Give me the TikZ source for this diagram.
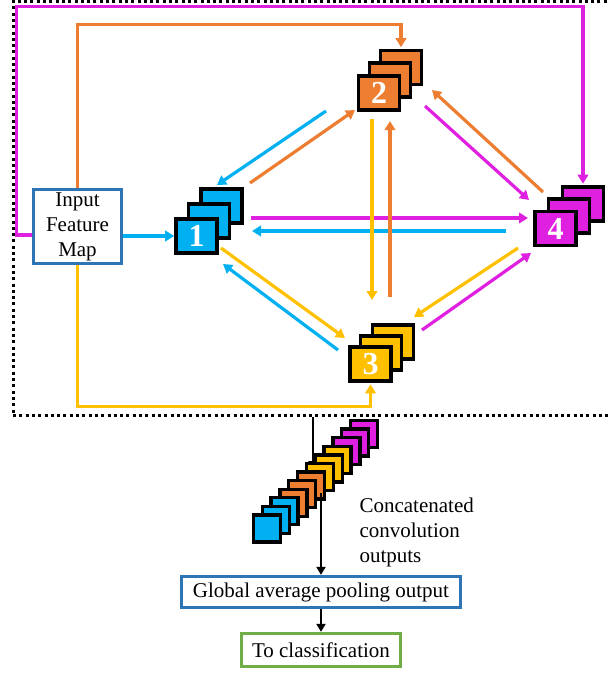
\documentclass[tikz,border=0pt]{standalone}
\usepackage{fontspec}
\setmainfont{Liberation Serif}
\usetikzlibrary{arrows.meta,calc,backgrounds}
\definecolor{cblue}{RGB}{0,176,240}
\definecolor{corange}{RGB}{237,125,49}
\definecolor{cyellow}{RGB}{255,192,0}
\definecolor{cmag}{RGB}{224,32,224}
\definecolor{boxblue}{RGB}{46,117,182}
\definecolor{boxgreen}{RGB}{112,173,71}
\begin{document}
\begin{tikzpicture}[x=1pt,y=-1pt,
  fm/.style={draw=black,line width=3.6pt,minimum width=41pt,minimum height=34pt,inner sep=0pt},
  num/.style={text=white,font=\bfseries\fontsize{32}{32}\selectfont},
  sq/.style={draw=black,line width=3.3pt,minimum size=27pt,inner sep=0pt},
  arr/.style={line width=3.2pt,-{Triangle[length=9pt,width=10.5pt]}},
  barr/.style={line width=2.6pt,-{Triangle[length=8pt,width=9pt]}},
  txt/.style={font=\fontsize{21}{25}\selectfont},
  outbox/.style={txt,line width=3.3pt,inner sep=0pt}
]
\useasboundingbox (0,0) rectangle (608,673);

% dotted frame around the convolution block (its right side lies on the page edge)
\node[draw=black,line width=3pt,dash pattern=on 3pt off 3.3pt,minimum width=597pt,minimum height=414pt,inner sep=0pt] (fr) at (311.5,208.5) {};

% input
\node[outbox,draw=boxblue,minimum width=88pt,minimum height=74pt,align=center] (ib) at (77.5,226.5) {Input\\Feature\\Map};

% feature-map stacks (back, middle, front)
\node[fm,fill=cblue] (s1c) at (221.5,206) {};
\node[fm,fill=cblue] (s1b) at (209,221) {};
\node[fm,fill=cblue,num] (s1a) at (196.5,236) {1};

\node[fm,fill=corange] (s2c) at (401,67.5) {};
\node[fm,fill=corange] (s2b) at (390,80) {};
\node[fm,fill=corange,num] (s2a) at (379,93) {2};

\node[fm,fill=cyellow] (s3c) at (393,342) {};
\node[fm,fill=cyellow] (s3b) at (381,353) {};
\node[fm,fill=cyellow,num] (s3a) at (370.5,364) {3};

\node[fm,fill=cmag] (s4c) at (583,204) {};
\node[fm,fill=cmag] (s4b) at (569,216) {};
\node[fm,fill=cmag,num] (s4a) at (555.5,228.5) {4};

% connections
\begin{pgfonlayer}{background}
\draw[arr,cblue] (ib.east |- s1a.west) -- (s1a.west);
\draw[arr,corange] (ib.north) -- ++(0,-163) -| ([yshift=1.5pt]s2c.north);
\draw[arr,cmag] ([yshift=-8.5pt]ib.west) -- ++(-15.5,0) -- ++(0,-228.5) -| ([yshift=1.5pt]s4c.north);
\draw[arr,cyellow] (ib.south) -- ++(0,141.5) -| ([yshift=-1.5pt]s3a.south);

\draw[arr,cblue]   ($(s2a)+(-53,18)$) -- ($(s1c)+(-4.5,-21)$);
\draw[arr,corange] ($(s1c)+(28.5,-23)$) -- ($(s2a)+(-24,17)$);
\draw[arr,cmag]    ($(s1c)+(29.5,12)$) -- ($(s4a)+(-27.5,-10.5)$);
\draw[arr,cblue]   ($(s4a)+(-49.5,2.5)$) -- ($(s1c)+(30.5,25)$);
\draw[arr,cyellow] ($(s2a)+(-7,26)$) -- ($(s3c)+(-21,-42)$);
\draw[arr,corange] ($(s3c)+(-3,-45)$) -- ($(s2a)+(11,28)$);
\draw[arr,cyellow] ($(s1a)+(24.5,12)$) -- ($(s3a)+(-25.5,-26)$);
\draw[arr,cblue]   ($(s3a)+(-32.5,-14)$) -- ($(s1a)+(26.5,28)$);
\draw[arr,cmag]    ($(s2b)+(35,26)$) -- ($(s4a)+(-26.5,-28.5)$);
\draw[arr,corange] ($(s4a)+(-12.5,-36.5)$) -- ($(s2b)+(42,10)$);
\draw[arr,cyellow] ($(s4a)+(-37.5,19.5)$) -- ($(s3c)+(21,-25)$);
\draw[arr,cmag]    ($(s3c)+(29,-12)$) -- ($(s4a)+(-24.5,24.5)$);
\end{pgfonlayer}

% output of the block into the concatenation
\draw[barr] (fr.south -| 313,0) -- ++(0,52);

% concatenated outputs, drawn back to front
\foreach \i/\c in {11/cmag,10/cmag,9/cmag,8/cyellow,7/cyellow,6/cyellow,5/corange,4/corange,3/corange,2/cblue,1/cblue,0/cblue}
  \node[sq,fill=\c] (cc\i) at ($(267,528.5)+\i*(8.82,-8.59)$) {};

\node[txt,anchor=west,align=left] (cap) at (356,532) {Concatenated\\convolution\\outputs};

\node[outbox,draw=boxblue,minimum width=279pt,minimum height=31pt] (gap) at (321,592) {Global average pooling output};
\node[outbox,draw=boxgreen,minimum width=159pt,minimum height=33pt] (cls) at (321,650) {To classification};

\draw[barr] ([yshift=82pt]gap.north) -- (gap.north);
\draw[barr] (gap.south) -- (cls.north);
\end{tikzpicture}
\end{document}
